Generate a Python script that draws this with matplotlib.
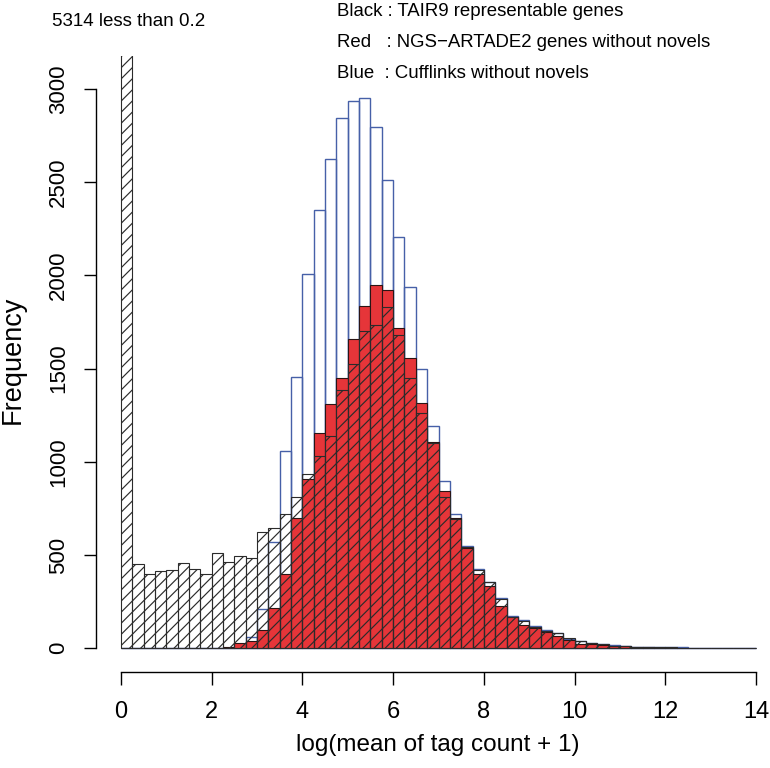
import numpy as np
import matplotlib
matplotlib.use("Agg")
import matplotlib.pyplot as plt

plt.rcParams['font.family'] = ['Liberation Sans', 'DejaVu Sans']
plt.rcParams['hatch.linewidth'] = 0.85

# histogram bins: width 0.25 from 0 to 14
bin_edges = np.arange(0, 14.0001, 0.25)

# Black : TAIR9 representable genes (hatched)
tair9 = [5314, 454, 398, 416, 418, 457, 425, 400, 509, 461, 496, 484, 623, 644,
         718, 813, 932, 1029, 1136, 1384, 1522, 1699, 1731, 1828, 1679, 1447, 1259,
         1102, 809, 695, 545, 420, 354, 264, 170, 148, 116, 93, 79, 54, 36, 27, 23,
         14, 14, 9, 5, 4, 4, 3, 2, 2, 1, 1, 1, 0]

# Red : NGS-ARTADE2 genes without novels
ngs = [0, 0, 0, 0, 0, 0, 0, 0, 0, 6, 29, 39, 98, 217, 399, 697, 907, 1152, 1307,
       1450, 1660, 1836, 1946, 1921, 1717, 1556, 1316, 1107, 845, 697, 536, 396,
       336, 227, 166, 125, 111, 89, 63, 45, 25, 21, 18, 12, 11, 5, 4, 3, 2, 2, 1,
       1, 0, 0, 0, 0]

# Blue : Cufflinks without novels
cufflinks = [0, 0, 0, 0, 0, 0, 0, 0, 0, 3, 15, 61, 212, 570, 1060, 1452, 2005,
             2348, 2621, 2846, 2937, 2951, 2796, 2509, 2206, 1937, 1498, 1193, 897,
             718, 548, 423, 357, 268, 172, 152, 118, 95, 82, 52, 39, 30, 24, 15, 14,
             9, 6, 5, 5, 4, 3, 2, 2, 1, 1, 1]

legend_lines = ["Black : TAIR9 representable genes",
                "Red   : NGS\u2212ARTADE2 genes without novels",
                "Blue  : Cufflinks without novels"]

fig = plt.figure(figsize=(7.7, 7.68), dpi=100)
ax = fig.add_axes([95.6 / 770, (768 - 671.7) / 768, 685.8 / 770, 615.7 / 768])

left = bin_edges[:-1]
w = 0.25
ax.bar(left, cufflinks, width=w, align='edge', facecolor='none',
       edgecolor='#4660A8', linewidth=1.0)
ax.bar(left, ngs, width=w, align='edge', facecolor='#E63539',
       edgecolor='#2a1515', linewidth=0.8)
ax.bar(left, tair9, width=w, align='edge', facecolor='none',
       edgecolor='#2b2b2b', linewidth=0.8, hatch='///')

ax.set_xlim(-0.56, 14.56)
ax.set_ylim(-126, 3176)

for s in ['top', 'right']:
    ax.spines[s].set_visible(False)
ax.spines['left'].set_bounds(0, 3000)
ax.spines['bottom'].set_bounds(0, 14)
ax.spines['left'].set_linewidth(1.0)
ax.spines['bottom'].set_linewidth(1.0)

ax.set_xticks(np.arange(0, 15, 2))
ax.set_yticks(np.arange(0, 3001, 500))
ax.tick_params(axis='both', length=9, width=1.0)
ax.tick_params(axis='x', labelsize=17, pad=12)
ax.tick_params(axis='y', labelsize=16, pad=10)
for lab in ax.get_yticklabels():
    lab.set_rotation(90)
    lab.set_va('center')

fig.text(13 / 770, 1 - 360 / 768, "Frequency", rotation=90, fontsize=19.5,
         ha='center', va='center')
fig.text(438 / 770, 1 - 745 / 768, "log(mean of tag count + 1)", fontsize=17.5,
         ha='center', va='center')

fig.text(52 / 770, 1 - 22 / 768, "5314 less than 0.2", fontsize=13.5,
         ha='left', va='center')
for i, line in enumerate(legend_lines):
    fig.text(337 / 770, 1 - (12 + 30.5 * i) / 768, line, fontsize=13.4,
             ha='left', va='center')

fig.savefig("out.png", dpi=100)
